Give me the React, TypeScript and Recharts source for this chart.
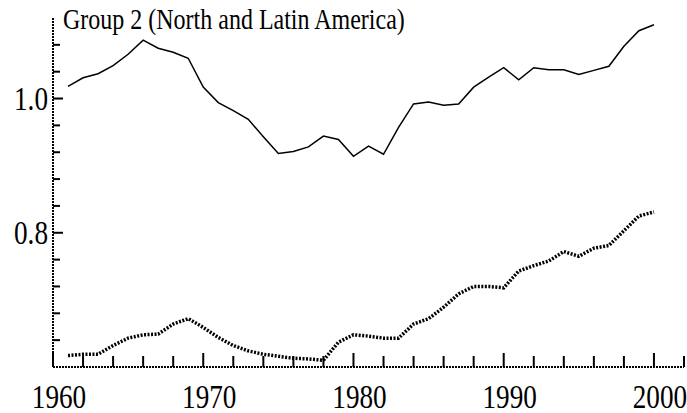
import { LineChart, Line, XAxis, YAxis } from "recharts";

const years = [
  1961, 1962, 1963, 1964, 1965, 1966, 1967, 1968, 1969, 1970,
  1971, 1972, 1973, 1974, 1975, 1976, 1977, 1978, 1979, 1980,
  1981, 1982, 1983, 1984, 1985, 1986, 1987, 1988, 1989, 1990,
  1991, 1992, 1993, 1994, 1995, 1996, 1997, 1998, 1999, 2000,
];

const solidSeries = [
  1.018, 1.031, 1.037, 1.049, 1.066, 1.087, 1.075, 1.069, 1.06, 1.017,
  0.994, 0.982, 0.969, 0.943, 0.918, 0.921, 0.928, 0.944, 0.939, 0.914,
  0.929, 0.917, 0.957, 0.992, 0.995, 0.99, 0.992, 1.017, 1.032, 1.046,
  1.028, 1.046, 1.043, 1.043, 1.036, 1.042, 1.048, 1.078, 1.101, 1.11,
];

const dottedSeries = [
  0.617, 0.619, 0.619, 0.632, 0.643, 0.648, 0.649, 0.664, 0.672, 0.659,
  0.644, 0.632, 0.624, 0.619, 0.616, 0.613, 0.612, 0.61, 0.637, 0.648,
  0.646, 0.643, 0.643, 0.664, 0.672, 0.689, 0.709, 0.72, 0.72, 0.718,
  0.743, 0.751, 0.758, 0.772, 0.765, 0.777, 0.781, 0.803, 0.825, 0.831,
];

const xTicks = [
  1960, 1962, 1964, 1966, 1968, 1970, 1972, 1974, 1976, 1978, 1980,
  1982, 1984, 1986, 1988, 1990, 1992, 1994, 1996, 1998, 2000, 2002,
];

const yTicks = [0.64, 0.68, 0.72, 0.76, 0.8, 0.84, 0.88, 0.92, 0.96, 1.0, 1.04, 1.08];
const yLabels = ["", "", "", "", "0.8", "", "", "", "", "1.0", "", ""];

const title = "Group 2 (North and Latin America)";

const data = years.map((year, i) => ({
  year,
  solid: solidSeries[i],
  dotted: dottedSeries[i],
}));

const font = "'Liberation Serif', 'Times New Roman', serif";

const YTick = (props: any) => {
  const { x, y, payload } = props;
  const idx = yTicks.findIndex((t) => Math.abs(t - payload.value) < 1e-6);
  const label = idx >= 0 ? yLabels[idx] : "";
  const major = label !== "";
  return (
    <g>
      <line x1={x} x2={x + (major ? 10 : 7)} y1={y} y2={y} stroke="#000" strokeWidth={2} />
      {major && (
        <text
          transform={`translate(${x - 5},${y + 11.5}) scale(0.8,1)`}
          textAnchor="end"
          fontSize={34}
          fontFamily={font}
          fill="#000"
        >
          {label}
        </text>
      )}
    </g>
  );
};

const XTick = (props: any) => {
  const { x, y, payload } = props;
  const year = payload.value;
  const major = year % 10 === 0;
  return (
    <g>
      <line x1={x} x2={x} y1={y} y2={y - (major ? 14 : 11)} stroke="#000" strokeWidth={2} />
      {major && (
        <text
          transform={`translate(${x + 6},${y + 41}) scale(0.8,1)`}
          textAnchor="middle"
          fontSize={34}
          fontFamily={font}
          fill="#000"
        >
          {year}
        </text>
      )}
    </g>
  );
};

export default function App() {
  return (
    <div style={{ position: "absolute", left: 0, top: 0, width: 687, height: 413, background: "#fff" }}>
      <LineChart width={687} height={413} data={data} margin={{ top: 18, right: 3, left: 0, bottom: 0 }}>
        <XAxis
          dataKey="year"
          type="number"
          domain={[1960, 2002]}
          ticks={xTicks}
          interval={0}
          height={46}
          tickSize={0}
          tickMargin={0}
          tick={<XTick />}
          axisLine={{ stroke: "#000", strokeWidth: 2, strokeDasharray: "2 1" }}
        />
        <YAxis
          type="number"
          domain={[0.6, 1.12]}
          allowDataOverflow
          ticks={yTicks}
          interval={0}
          width={53}
          tickSize={0}
          tickMargin={0}
          tick={<YTick />}
          axisLine={{ stroke: "#000", strokeWidth: 2, strokeDasharray: "2 1" }}
        />
        <Line
          type="linear"
          dataKey="solid"
          stroke="#000"
          strokeWidth={1.5}
          dot={false}
          isAnimationActive={false}
        />
        <Line
          type="linear"
          dataKey="dotted"
          stroke="#000"
          strokeWidth={3.5}
          strokeDasharray="2 1.5"
          dot={false}
          isAnimationActive={false}
        />
      </LineChart>
      <svg width={687} height={413} style={{ position: "absolute", left: 0, top: 0, pointerEvents: "none" }}>
        <text transform="translate(63,29) scale(0.8,1)" fontSize={30} fontFamily={font} fill="#000">
          {title}
        </text>
      </svg>
    </div>
  );
}
